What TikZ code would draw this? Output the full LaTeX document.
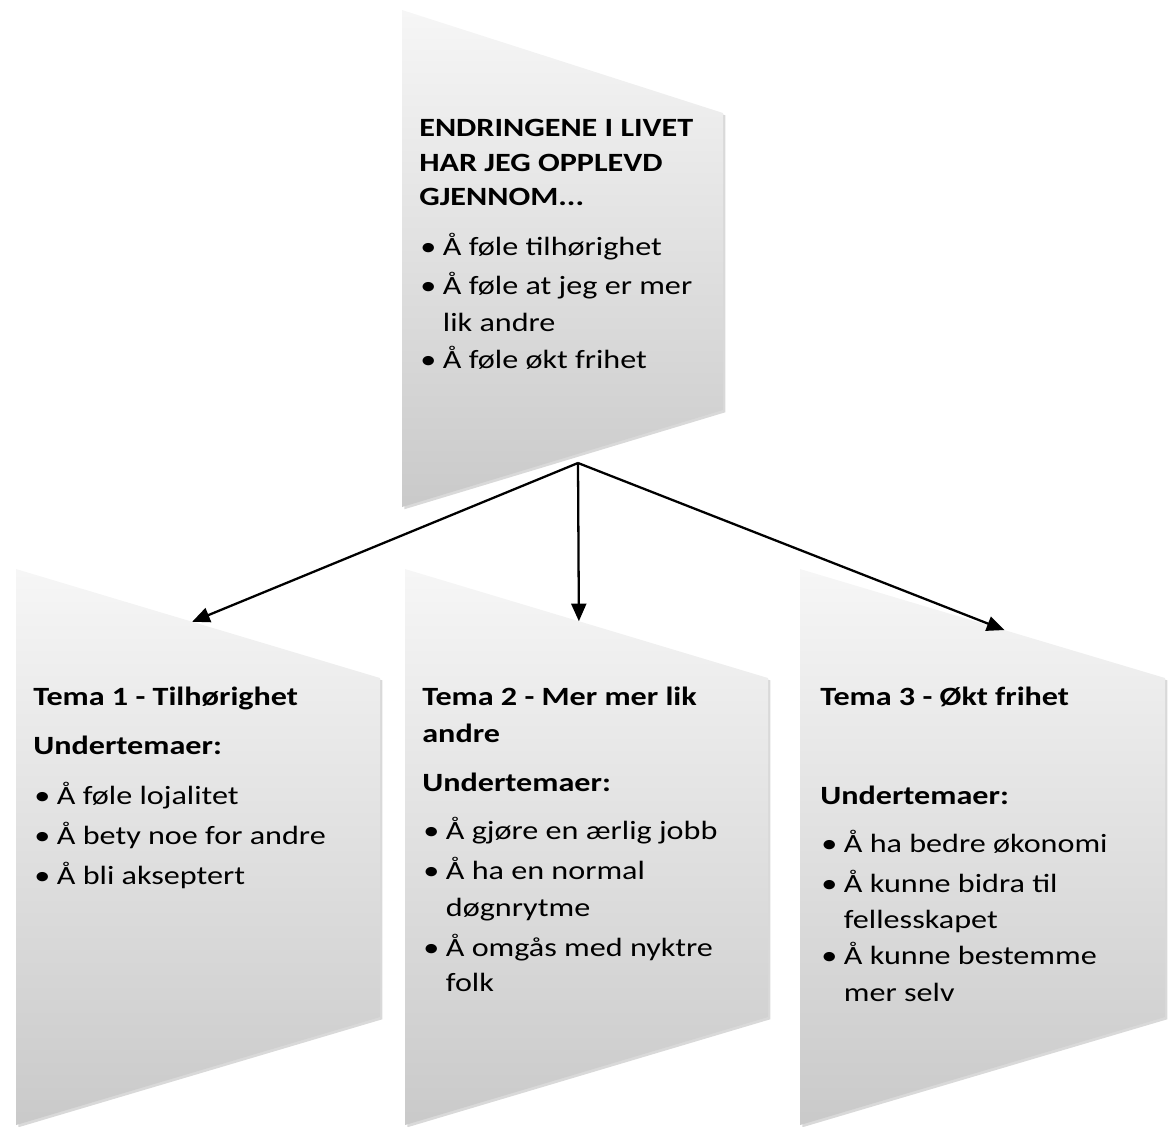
\documentclass[tikz,border=0pt]{standalone}
\usepackage{fontspec}
\setmainfont{Carlito}[FakeStretch=1.22]
\usetikzlibrary{arrows.meta,calc,shadows}

\newcommand{\bul}{\hspace*{0.6pt}\makebox[12.8pt][l]{\textbullet}}
\newcommand{\cont}{\hspace*{13.4pt}}
\newcommand{\firstline}{\rule{0pt}{14pt}}

\begin{document}
\begin{tikzpicture}[x=0.02cm, y=-0.02cm,
    panel/.style={top color=gray!7, bottom color=gray!42, draw=none,
      drop shadow={shadow xshift=1.3pt, shadow yshift=-1.3pt, opacity=0.3}},
    flow/.style={line width=1.3pt, -{Triangle[length=10pt,width=8.5pt]}},
    txt/.style={anchor=north west, align=left, inner sep=0pt,
      font=\fontsize{15}{21}\selectfont}]
  \useasboundingbox (0,0) rectangle (1169,1126);

  % Panels
  \path[panel] (402,10) coordinate (p0-nw) -- (723,113) coordinate (p0-ne)
    -- (723,410) coordinate (p0-se) -- (402,507) coordinate (p0-sw) -- cycle;
  \path[panel] (16,569) coordinate (p1-nw) -- (380,678) coordinate (p1-ne)
    -- (380,1017) -- (16,1125) -- cycle;
  \path[panel] (405,569) coordinate (p2-nw) -- (768,678) coordinate (p2-ne)
    -- (768,1017) -- (405,1125) -- cycle;
  \path[panel] (800,569) coordinate (p3-nw) -- (1165,678) coordinate (p3-ne)
    -- (1165,1017) -- (800,1125) -- cycle;

  % Arrows
  \coordinate (hub) at (578,463);
  \draw[flow] (hub) -- ($(p1-nw)!0.484!(p1-ne)$);
  \draw[flow] (hub) -- ($(p2-nw)!0.479!(p2-ne)$);
  \draw[flow] (hub) -- ($(p3-nw)!0.56!(p3-ne)$);

  % Texts (first baseline 24.7 units below the anchor)
  \node[txt] (top) at (419,111.3) {\firstline\textbf{ENDRINGENE I LIVET}\\[-1.2pt]
    \textbf{HAR JEG OPPLEVD}\\[-1.2pt]
    \textbf{GJENNOM...}\\[7.3pt]
    \bul Å føle tilhørighet\\[1.1pt]
    \bul Å føle at jeg er mer\\
    \cont lik andre\\
    \bul Å føle økt frihet};

  \node[txt] (tema1) at (33,680.3) {\firstline\textbf{Tema 1 - Tilhørighet}\\[7.3pt]
    \textbf{Undertemaer:}\\[7.3pt]
    \bul Å føle lojalitet\\[1.7pt]
    \bul Å bety noe for andre\\[1.7pt]
    \bul Å bli akseptert};

  \node[txt] (tema2) at (422,680.3) {\firstline\textbf{Tema 2 - Mer mer lik}\\
    \textbf{andre}\\[7.3pt]
    \textbf{Undertemaer:}\\[6.2pt]
    \bul Å gjøre en ærlig jobb\\[1.7pt]
    \bul Å ha en normal\\
    \cont døgnrytme\\[1.7pt]
    \bul Å omgås med nyktre\\[-1pt]
    \cont folk};

  \node[txt] (tema3) at (820,680.3) {\firstline\textbf{Tema 3 - Økt frihet}\\[35.7pt]
    \textbf{Undertemaer:}\\[6.2pt]
    \bul Å ha bedre økonomi\\[1.7pt]
    \bul Å kunne bidra til\\[-0.6pt]
    \cont fellesskapet\\[-0.6pt]
    \bul Å kunne bestemme\\
    \cont mer selv};
\end{tikzpicture}
\end{document}
